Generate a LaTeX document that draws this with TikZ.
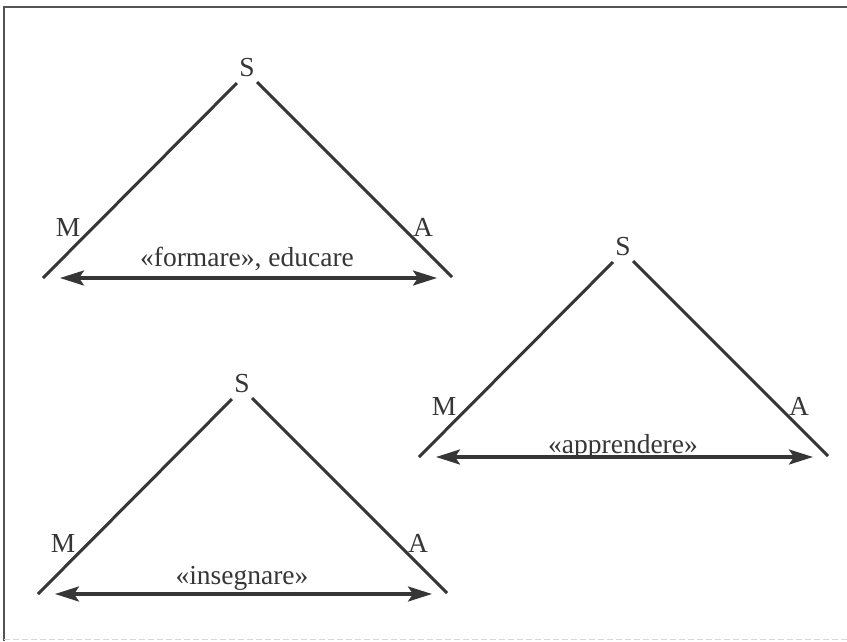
\documentclass[tikz,border=0pt]{standalone}
\usepackage{fontspec}
\setmainfont{Liberation Serif}
\usetikzlibrary{arrows.meta}
\definecolor{ink}{HTML}{363636}
\tikzset{
  side/.style={draw=ink, line width=3pt},
  tipa/.tip={Stealth[length=24pt,width=15pt,inset=5pt]},
  dblarrow/.style={draw=ink, line width=3.2pt, tipa-tipa},
  lbl/.style={inner sep=0pt, text=ink, font=\fontsize{27.5}{30}\selectfont},
  caption/.style={inner sep=0pt, anchor=base, text=ink, font=\fontsize{27.5}{30}\selectfont},
  frame/.style={draw=ink!85, line width=2pt}
}
\newcommand{\mytri}[5]{%
  \begin{scope}[shift={(#2,#3)}]
    \coordinate (#1lb) at (0,0);
    \coordinate (#1lt) at (194,-195);
    \coordinate (#1rt) at (214,-196);
    \coordinate (#1rb) at (409,-1);
    \coordinate (#1al) at (17,0);
    \coordinate (#1ar) at (394,0);
    \node[lbl] (#1S) at (204,-210) {S};
    \node[lbl] (#1M) at (25,-51) {M};
    \node[lbl] (#1A) at (380,-51) {A};
    \node[caption] (#1T) at (204,#5) {#4};
    \draw[side] (#1lb) -- (#1lt);
    \draw[side] (#1rt) -- (#1rb);
    \draw[dblarrow] (#1al) -- (#1ar);
  \end{scope}}
\begin{document}
\begin{tikzpicture}[x=1pt,y=-1pt]
  \useasboundingbox (0,0) rectangle (847,641);
  \coordinate (fbl) at (4,641);
  \coordinate (ftl) at (4,7);
  \coordinate (ftr) at (847,7);
  \coordinate (fbr) at (847,639);
  \coordinate (fbb) at (4,639);
  \draw[frame] (fbl) -- (ftl) -- (ftr);
  \draw[draw=ink!20, line width=1pt, dash pattern=on 6pt off 3pt] (fbb) -- (fbr);
  \mytri{a}{43}{278}{«formare», educare}{-12}
  \mytri{b}{419}{457}{«apprendere»}{-4}
  \mytri{c}{38}{594}{«insegnare»}{-10}
\end{tikzpicture}
\end{document}
